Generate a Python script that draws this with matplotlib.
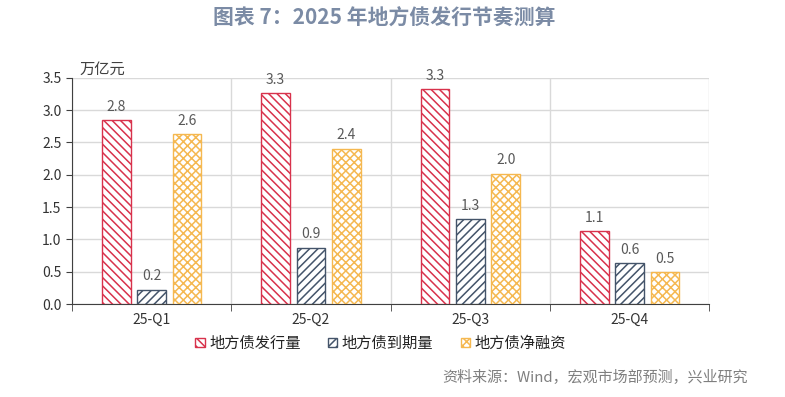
import matplotlib.pyplot as plt
import numpy as np

plt.rcParams['font.family'] = ['Noto Sans CJK SC', 'DejaVu Sans']
plt.rcParams['hatch.linewidth'] = 1.1

quarters = ["25-Q1", "25-Q2", "25-Q3", "25-Q4"]
issuance = [2.84, 3.26, 3.32, 1.13]
maturity = [0.22, 0.87, 1.31, 0.63]
net_financing = [2.63, 2.40, 2.02, 0.49]
series_names = ["地方债发行量", "地方债到期量", "地方债净融资"]

fig = plt.figure(figsize=(7.85, 3.97), dpi=100)
ax = fig.add_axes([0.0917, 0.234, 0.812, 0.570])

x = np.arange(len(quarters))
w = 0.18
styles = [
    (issuance, -0.222, "#d8324c", "\\\\\\\\"),
    (maturity, 0.0, "#44546a", "////"),
    (net_financing, 0.222, "#f5b850", "xxxx"),
]
handles = []
for (vals, off, col, hatch), name in zip(styles, series_names):
    b = ax.bar(x + off, vals, w, facecolor="white", edgecolor=col, hatch=hatch,
               linewidth=1.0, label=name, zorder=3)
    handles.append(b)
    for xi, v in zip(x + off, vals):
        ax.text(xi, v + 0.1, f"{v:.1f}", ha="center", va="bottom",
                fontsize=10, color="#595959")

ax.set_xlim(-0.5, 3.5)
ax.set_ylim(0, 3.5)
ax.set_yticks(np.arange(0, 3.51, 0.5))
ax.set_yticklabels([f"{t:.1f}" for t in np.arange(0, 3.51, 0.5)])
ax.set_xticks(x)
ax.set_xticklabels(quarters)
ax.set_xticks(np.arange(-0.5, 3.6, 1), minor=True)
ax.tick_params(axis="x", which="major", length=0, labelsize=10, colors="#333333", pad=6)
ax.tick_params(axis="x", which="minor", length=5, color="#404040")
ax.tick_params(axis="y", length=4, direction="out", labelsize=10, colors="#333333", color="#404040")

ax.grid(axis="y", color="#d9d9d9", linewidth=1.0, zorder=0)
ax.grid(axis="x", which="minor", color="#d9d9d9", linewidth=1.0, zorder=0)
for s in ["top", "right"]:
    ax.spines[s].set_visible(False)
ax.spines["left"].set_color("#404040")
ax.spines["bottom"].set_color("#404040")

ax.text(0.012, 1.0, "万亿元", transform=ax.transAxes, ha="left", va="bottom",
        fontsize=11, color="#404040")

leg = fig.legend(handles=handles, loc="center", bbox_to_anchor=(0.485, 0.135), ncol=3,
                 frameon=False, fontsize=11, handlelength=0.6, handleheight=0.6,
                 columnspacing=1.8, handletextpad=0.3)
for t in leg.get_texts():
    t.set_color("#222222")

fig.text(0.49, 0.953, "图表 7：2025 年地方债发行节奏测算", ha="center", va="center",
         fontsize=15, fontweight="bold", color="#7b8ba5")
fig.text(0.953, 0.048, "资料来源：Wind，宏观市场部预测，兴业研究", ha="right", va="center",
         fontsize=10.8, color="#7f7f7f")

fig.savefig("out.png", dpi=100)
